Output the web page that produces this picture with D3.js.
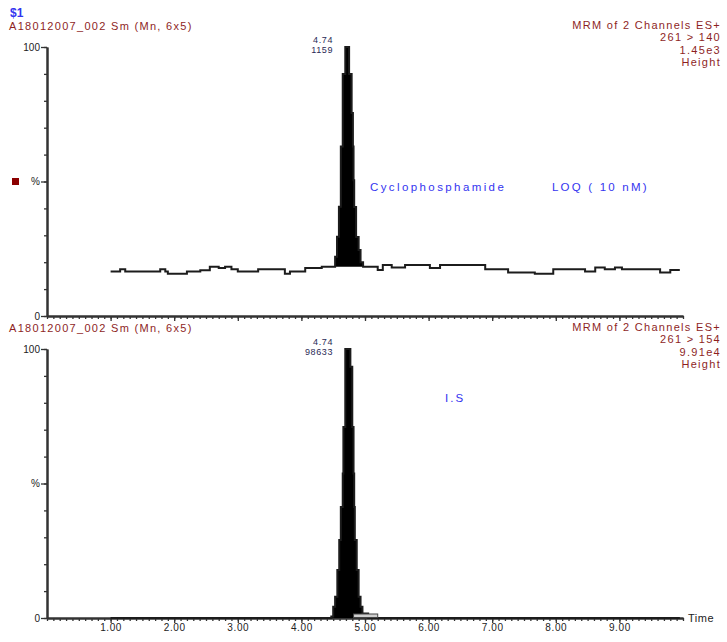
<!doctype html>
<html lang="en">
<head>
  <meta charset="utf-8">
  <title>Chromatogram</title>
  <style>
    body { margin: 0; background: #fff; }
    text { font-family: 'Liberation Sans', Arial, sans-serif; }
  </style>
</head>
<body>
  <script src="https://cdn.jsdelivr.net/npm/d3@7"></script>
  <script>
    // Trace 1: 261 > 140 (Cyclophosphamide), % of 1.45e3
    const topTimes = [1.00, 1.15, 1.23, 1.78, 1.86, 1.90, 2.20, 2.41, 2.56, 2.70, 2.80, 2.90, 3.00, 3.32, 3.74, 3.82, 4.06, 4.32,
                      4.53, 4.56, 4.59, 4.62, 4.65, 4.69, 4.75, 4.79, 4.81, 4.82, 4.83, 4.86, 4.90, 4.93, 4.97,
                      5.20, 5.28, 5.42, 5.63, 6.02, 6.18, 6.89, 7.25, 7.67, 7.96, 8.46, 8.62, 8.77, 8.93, 9.04, 9.64, 9.80, 9.95];
    const topValues = [16.5, 17.4, 16.5, 17.4, 16.5, 15.7, 16.5, 17.0, 18.3, 17.8, 18.3, 17.4, 16.5, 17.4, 15.7, 16.5, 17.8, 18.3,
                       22, 29.5, 40.6, 63, 90, 100, 90, 75.5, 63, 50.5, 40.5, 29.4, 24.5, 20, 18.3,
                       17.1, 19.0, 18.0, 19.0, 17.8, 19.0, 17.4, 16.2, 15.7, 17.4, 16.5, 18.0, 17.4, 18.0, 17.4, 16.2, 17.1, 17.1];

    // Trace 2: 261 > 154 (I.S), % of 9.91e4
    const botTimes = [1.00, 4.47, 4.50, 4.53, 4.565, 4.595, 4.62, 4.65, 4.66, 4.69, 4.77, 4.80, 4.82, 4.83, 4.84, 4.87, 4.90, 4.93, 4.96, 5.05, 9.95];
    const botValues = [0, 0.6, 4.2, 7.9, 17.8, 29, 41.3, 53.7, 71, 100, 93.4, 71, 53.7, 41.3, 29, 17.8, 7.9, 4.2, 1.7, 0, 0];

    // integrated peak windows and fill base levels
    const topPeak = [4.53, 4.97];
    const topBase = 18.3;
    const botPeak = [4.47, 5.05];
    const botBase = 0;
    const isBaseline = [4.82, 5.20];

    const xTickLabels = [1, 2, 3, 4, 5, 6, 7, 8, 9];
    const panels = [
      { header: 'A18012007_002 Sm (Mn, 6x5)', info: ['MRM of 2 Channels ES+', '261 > 140', '1.45e3', 'Height'],
        rt: '4.74', area: '1159', note: ['Cyclophosphamide', 'LOQ ( 10 nM)'] },
      { header: 'A18012007_002 Sm (Mn, 6x5)', info: ['MRM of 2 Channels ES+', '261 > 154', '9.91e4', 'Height'],
        rt: '4.74', area: '98633', note: ['I.S'] }
    ];

    const w = 727, h = 642;
    const svg = d3.select('body').append('svg').attr('width', w).attr('height', h);

    const red = '#8e1f1f', blue = '#3434f0', ink = '#1c1c1c';

    const x = d3.scaleLinear().domain([0, 10]).range([47, 683]);
    const yTop = d3.scaleLinear().domain([0, 100]).range([316, 47]);
    const yBot = d3.scaleLinear().domain([0, 100]).range([618, 349]);

    svg.append('text').attr('x', 10).attr('y', 17)
       .attr('font-size', 12).attr('font-weight', 'bold').attr('fill', blue).text('$1');

    function drawPanel(p, y, times, values, peak, base, showLabels) {
      const g = svg.append('g');
      const top = y.range()[1];

      g.append('text').attr('x', 9).attr('y', top - 17)
       .attr('font-size', 11).attr('letter-spacing', 1.3).attr('fill', red).text(p.header);

      p.info.forEach((t, i) => {
        g.append('text').attr('x', 721).attr('y', top - 18 + i * 12.3)
         .attr('text-anchor', 'end').attr('font-size', 11).attr('letter-spacing', 1.3)
         .attr('fill', red).text(t);
      });

      // axes
      const xMinor = d3.axisBottom(x).tickValues(d3.range(0, 10.001, 0.1)).tickSize(3).tickSizeOuter(0).tickFormat('');
      const xMajor = d3.axisBottom(x).tickValues(xTickLabels).tickSize(5).tickSizeOuter(0)
                       .tickFormat(showLabels ? d3.format('.2f') : '');
      [xMinor, xMajor].forEach((ax) => {
        const a = g.append('g').attr('transform', `translate(0, ${y(0)})`).call(ax);
        a.select('.domain').attr('stroke', '#333').attr('stroke-width', 2);
        a.selectAll('.tick line').attr('stroke', '#333').attr('stroke-width', 1.3);
        a.selectAll('.tick text').attr('font-size', 10).attr('letter-spacing', 0.6)
         .attr('fill', '#222').attr('dy', '0.45em');
      });

      const yMinor = d3.axisLeft(y).tickValues(d3.range(0, 101, 10)).tickSize(3).tickSizeOuter(0).tickFormat('');
      const yMajor = d3.axisLeft(y).tickValues([0, 50, 100]).tickSize(6).tickSizeOuter(0)
                       .tickFormat((d) => d === 50 ? '%' : d);
      [yMinor, yMajor].forEach((ax) => {
        const a = g.append('g').attr('transform', `translate(${x(0)}, 0)`).call(ax);
        a.select('.domain').attr('stroke', '#333').attr('stroke-width', 2);
        a.selectAll('.tick line').attr('stroke', '#333').attr('stroke-width', 1.3);
        a.selectAll('.tick text').attr('font-size', 10).attr('fill', '#222').attr('x', -7);
      });

      if (showLabels) {
        g.append('text').attr('x', 688).attr('y', y(0) + 4)
         .attr('font-size', 11).attr('letter-spacing', 0.5).attr('fill', '#222').text('Time');
      }

      const pts = times.map((t, i) => [t, values[i]]);

      // filled integrated peak
      const inPeak = pts.filter((d) => d[0] >= peak[0] && d[0] <= peak[1]);
      g.append('path').datum(inPeak)
       .attr('fill', '#000')
       .attr('d', d3.area().curve(d3.curveStepAfter)
                 .x((d) => x(d[0])).y0(y(base)).y1((d) => y(d[1])));

      // trace
      g.append('path').datum(pts)
       .attr('fill', 'none').attr('stroke', ink).attr('stroke-width', 2)
       .attr('d', d3.line().curve(d3.curveStepAfter).x((d) => x(d[0])).y((d) => y(d[1])));

      // peak label
      g.append('text').attr('x', 333).attr('y', y(100) - 4)
       .attr('text-anchor', 'end').attr('font-size', 9).attr('letter-spacing', 0.6).attr('fill', '#2a2a55').text(p.rt);
      g.append('text').attr('x', 333).attr('y', y(100) + 6)
       .attr('text-anchor', 'end').attr('font-size', 9).attr('letter-spacing', 0.6).attr('fill', '#2a2a55').text(p.area);

      return g;
    }

    const gTop = drawPanel(panels[0], yTop, topTimes, topValues, topPeak, topBase, false);
    const gBot = drawPanel(panels[1], yBot, botTimes, botValues, botPeak, botBase, true);

    // marker square beside the top axis
    gTop.append('rect').attr('x', 12).attr('y', yTop(50) - 3.5).attr('width', 7).attr('height', 7).attr('fill', '#8b0000');

    // annotations
    gTop.append('text').attr('x', 370).attr('y', 191)
        .attr('font-size', 11.5).attr('letter-spacing', 2.4).attr('fill', blue).text(panels[0].note[0]);
    gTop.append('text').attr('x', 552).attr('y', 191)
        .attr('font-size', 11.5).attr('letter-spacing', 2.2).attr('fill', blue).text(panels[0].note[1]);
    gBot.append('text').attr('x', 445).attr('y', 402)
        .attr('font-size', 11.5).attr('letter-spacing', 2).attr('fill', blue).text(panels[1].note[0]);

    // integration baseline marker in the I.S trace
    gBot.append('rect')
        .attr('x', x(isBaseline[0])).attr('y', yBot(0) - 4)
        .attr('width', x(isBaseline[1]) - x(isBaseline[0])).attr('height', 3.5)
        .attr('fill', '#d0d0d0').attr('stroke', '#444').attr('stroke-width', 1);
  </script>
</body>
</html>
